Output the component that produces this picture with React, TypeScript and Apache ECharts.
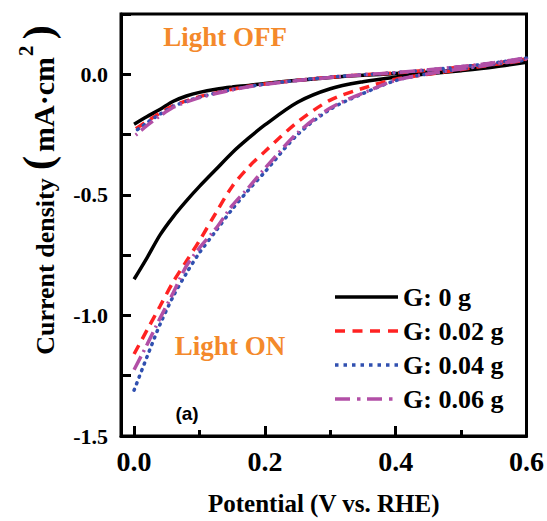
import React, { useEffect, useRef } from "react";
import * as echarts from "echarts";

// Potential grid (V vs. RHE)
const potential = [0, 0.02, 0.04, 0.06, 0.08, 0.1, 0.125, 0.15, 0.175, 0.2, 0.25, 0.3, 0.35, 0.4, 0.45, 0.5, 0.55, 0.6];

// Light ON branches (mA·cm^-2)
const g0On = [-0.85, -0.76, -0.665, -0.59, -0.525, -0.465, -0.395, -0.325, -0.265, -0.21, -0.116, -0.06, -0.031, -0.012, 0.002, 0.015, 0.03, 0.05];
const g002On = [-1.16, -1.06, -0.96, -0.86, -0.775, -0.69, -0.575, -0.465, -0.385, -0.32, -0.198, -0.107, -0.058, -0.02, 0.0, 0.02, 0.04, 0.063];
const g004On = [-1.31, -1.17, -1.035, -0.92, -0.825, -0.74, -0.65, -0.56, -0.48, -0.405, -0.25, -0.145, -0.08, -0.026, 0.002, 0.022, 0.042, 0.063];
const g006On = [-1.225, -1.12, -1.01, -0.905, -0.795, -0.72, -0.64, -0.545, -0.47, -0.39, -0.243, -0.14, -0.078, -0.025, 0.002, 0.022, 0.042, 0.065];

// Light OFF branches
const g0Off = [-0.207, -0.175, -0.145, -0.112, -0.09, -0.075, -0.062, -0.053, -0.046, -0.038, -0.025, -0.013, -0.004, 0.003, 0.01, 0.018, 0.031, 0.05];
const g002Off = [-0.23, -0.195, -0.16, -0.13, -0.11, -0.093, -0.077, -0.062, -0.05, -0.04, -0.025, -0.012, -0.002, 0.006, 0.017, 0.03, 0.046, 0.065];
const g004Off = [-0.24, -0.2, -0.165, -0.133, -0.112, -0.095, -0.078, -0.063, -0.051, -0.041, -0.025, -0.012, -0.002, 0.007, 0.018, 0.031, 0.047, 0.067];
const g006Off = [-0.258, -0.212, -0.172, -0.137, -0.115, -0.097, -0.08, -0.065, -0.052, -0.042, -0.026, -0.013, -0.002, 0.007, 0.019, 0.032, 0.048, 0.068];

const seriesNames = ["G: 0 g", "G: 0.02 g", "G: 0.04 g", "G: 0.06 g"];
const xTickLabels = [0, 0.2, 0.4, 0.6];
const xMinorTicks = [0.1, 0.3, 0.5];

const loop = (on: number[], off: number[]) => [
  ...on.map((v, i) => [potential[i], v]),
  ...off.map((v, i) => [potential[i], v]).reverse(),
];

const SERIF = "'Liberation Serif', 'Times New Roman', serif";

const legendIcons = [
  "path://M0,0H63V3.5H0Z",
  "path://M0,0H10V3.5H0ZM17.5,0H27.5V3.5H17.5ZM35,0H45V3.5H35ZM53,0H63V3.5H53Z",
  "path://M0,0H3.5V3.5H0ZM8.5,0H12V3.5H8.5ZM17,0H20.5V3.5H17ZM25.5,0H29V3.5H25.5ZM34,0H37.5V3.5H34ZM42.5,0H46V3.5H42.5ZM51,0H54.5V3.5H51ZM59.5,0H63V3.5H59.5Z",
  "path://M0,0H15V3.5H0ZM22,0H25.5V3.5H22ZM32,0H47V3.5H32ZM54,0H57.5V3.5H54ZM63,0H63V3.5H63Z",
];

export default function App() {
  const ref = useRef<HTMLDivElement>(null);
  useEffect(() => {
    if (!ref.current) return;
    const chart = echarts.init(ref.current, null, { renderer: "svg" });
    const styles = [
      { color: "#000000", type: "solid" as any },
      { color: "#ff2222", type: [10, 7] },
      { color: "#3050b0", type: [1, 6] },
      { color: "#b24fa6", type: [15, 5, 2, 5] },
    ];
    const datas = [loop(g0On, g0Off), loop(g002On, g002Off), loop(g004On, g004Off), loop(g006On, g006Off)];
    chart.setOption({
      animation: false,
      backgroundColor: "#ffffff",
      grid: { left: 121, right: 19, top: 14, bottom: 79, show: true, borderColor: "#000", borderWidth: 3, backgroundColor: "transparent" },
      legend: {
        orient: "vertical",
        left: 335,
        top: 284,
        itemWidth: 63,
        itemHeight: 3.5,
        itemGap: 8,
        padding: 0,
        symbolKeepAspect: false,
        data: seriesNames.map((name, i) => ({ name, icon: legendIcons[i], itemStyle: { color: styles[i].color } })),
        textStyle: { fontFamily: SERIF, fontWeight: "bold", fontSize: 26, color: "#000", lineHeight: 26 },
      },
      xAxis: [
        {
          type: "value",
          min: -0.02,
          max: 0.6,
          position: "bottom",
          splitLine: { show: false },
          axisLine: { show: true, onZero: false, lineStyle: { color: "#000", width: 3 } },
          axisTick: { show: true, inside: true, length: 10, lineStyle: { width: 3, color: "#000" }, customValues: xTickLabels },
          axisLabel: {
            customValues: xTickLabels,
            formatter: (v: number) => v.toFixed(1),
            fontFamily: SERIF, fontWeight: "bold", fontSize: 28, color: "#000", margin: 11,
          },
          name: "Potential (V vs. RHE)",
          nameLocation: "middle",
          nameGap: 55,
          nameTextStyle: { fontFamily: SERIF, fontWeight: "bold", fontSize: 25, color: "#000" },
        },
        {
          type: "value",
          min: -0.02,
          max: 0.6,
          position: "bottom",
          splitLine: { show: false },
          axisLine: { show: false, onZero: false },
          axisTick: { show: true, inside: true, length: 6, lineStyle: { width: 3, color: "#000" }, customValues: xMinorTicks },
          axisLabel: { show: false },
        },
      ],
      yAxis: {
        type: "value",
        min: -1.5,
        max: 0.25,
        interval: 0.25,
        splitLine: { show: false },
        axisLine: { show: true, onZero: false, lineStyle: { color: "#000", width: 3 } },
        axisTick: { show: true, inside: true, length: 10, lineStyle: { width: 3, color: "#000" } },
        axisLabel: {
          formatter: (v: number) => (Math.abs(v * 2 - Math.round(v * 2)) < 1e-6 && v < 0.2 ? v.toFixed(1) : ""),
          fontFamily: SERIF, fontWeight: "bold", fontSize: 22, color: "#000", margin: 13,
        },
      },
      graphic: [
        {
          type: "text",
          x: 37,
          y: 190,
          rotation: Math.PI / 2,
          style: {
            text: "{a|Current density}{b|(}{m|mA·cm}{s|2}{b|)}",
            align: "center",
            verticalAlign: "middle",
            fill: "#000",
            rich: {
              a: { fontFamily: SERIF, fontWeight: "bold", fontSize: 26, fill: "#000", verticalAlign: "bottom", padding: [0, 8, 0, 0] },
              m: { fontFamily: SERIF, fontWeight: "bold", fontSize: 30, fill: "#000", verticalAlign: "bottom", padding: [0, 1, 0, 4] },
              b: { fontFamily: SERIF, fontWeight: "bold", fontSize: 43, fill: "#000", verticalAlign: "bottom" },
              s: { fontFamily: SERIF, fontWeight: "bold", fontSize: 21, fill: "#000", verticalAlign: "top", padding: [0, 6, 0, 0] },
            },
          },
        },
        {
          type: "text",
          x: 225,
          y: 37,
          style: { text: "Light OFF", align: "center", verticalAlign: "middle", fill: "#f4892b", font: `bold 27px ${SERIF}` },
        },
        {
          type: "text",
          x: 230,
          y: 346,
          style: { text: "Light ON", align: "center", verticalAlign: "middle", fill: "#f4892b", font: `bold 27px ${SERIF}` },
        },
        {
          type: "text",
          x: 187,
          y: 413,
          style: { text: "(a)", align: "center", verticalAlign: "middle", fill: "#000", font: "bold 19px 'Liberation Sans', Arial, sans-serif" },
        },
      ],
      series: seriesNames.map((name, i) => ({
        name,
        type: "line",
        data: datas[i],
        symbol: "none",
        smooth: 0.3,
        lineStyle: { color: styles[i].color, width: 3.5, type: styles[i].type, cap: i === 2 ? "round" : "butt" },
        itemStyle: { color: styles[i].color },
      })),
    });
    return () => chart.dispose();
  }, []);
  return <div ref={ref} style={{ position: "fixed", left: 0, top: 0, width: 547, height: 521, background: "#fff" }} />;
}
